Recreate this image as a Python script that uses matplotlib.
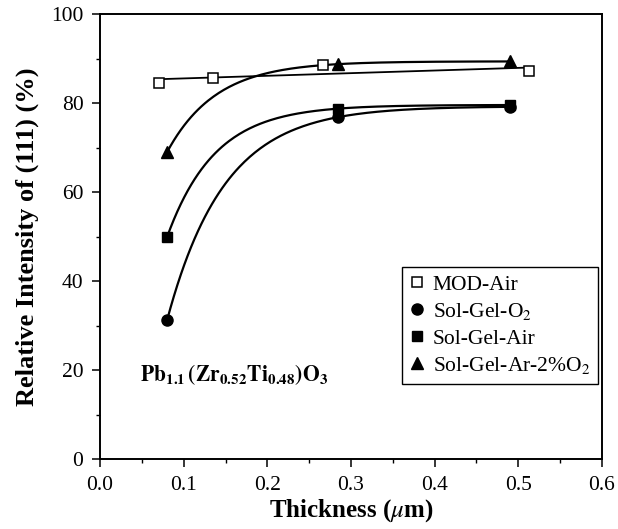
import numpy as np
import matplotlib
matplotlib.use("Agg")
import matplotlib.pyplot as plt

# film thickness (um) vs relative intensity of the (111) peak (%)
thick_mod = [0.07, 0.135, 0.267, 0.513]
mod_air = [84.5, 85.6, 88.5, 87.2]

thick_sg = [0.08, 0.285, 0.49]
sg_o2 = [31.2, 76.9, 79.2]
sg_air = [49.9, 78.8, 79.6]
sg_ar = [69.0, 88.8, 89.4]

x_ticks = [0.0, 0.1, 0.2, 0.3, 0.4, 0.5, 0.6]
y_ticks = [0, 20, 40, 60, 80, 100]

plt.rcParams["font.family"] = ["Liberation Serif", "DejaVu Serif"]
plt.rcParams["mathtext.fontset"] = "stix"


def saturation_curve(x, y, num=200):
    # y = a - b*exp(-k*x) through three evenly spaced points
    x = np.asarray(x, dtype=float)
    y = np.asarray(y, dtype=float)
    h = x[1] - x[0]
    k = np.log((y[1] - y[0]) / (y[2] - y[1])) / h
    b = (y[1] - y[0]) / (np.exp(-k * x[0]) - np.exp(-k * x[1]))
    a = y[0] + b * np.exp(-k * x[0])
    xs = np.linspace(x[0], x[-1], num)
    return xs, a - b * np.exp(-k * xs)


fig = plt.figure(figsize=(6.18, 5.29), dpi=100)
ax = fig.add_axes([0.162, 0.132, 0.812, 0.841])

# fitted lines
coef = np.polyfit(thick_mod, mod_air, 1)
xs = np.linspace(thick_mod[0], thick_mod[-1], 50)
ax.plot(xs, np.polyval(coef, xs), color="black", lw=1.3)
for vals in (sg_o2, sg_air, sg_ar):
    cx, cy = saturation_curve(thick_sg, vals)
    ax.plot(cx, cy, color="black", lw=1.6)

# data points
ax.plot(thick_mod, mod_air, ls="none", marker="s", ms=7.5, mfc="white",
        mec="black", mew=1.1, label="MOD-Air")
ax.plot(thick_sg, sg_o2, ls="none", marker="o", ms=8, color="black",
        label="Sol-Gel-O$_2$")
ax.plot(thick_sg, sg_air, ls="none", marker="s", ms=7.5, color="black",
        label="Sol-Gel-Air")
ax.plot(thick_sg, sg_ar, ls="none", marker="^", ms=8.5, color="black",
        label="Sol-Gel-Ar-2%O$_2$")

ax.set_xlim(0, 0.6)
ax.set_ylim(0, 100)
ax.set_xticks(x_ticks)
ax.set_xticklabels([f"{t:.1f}" for t in x_ticks])
ax.set_yticks(y_ticks)
ax.set_xticks(np.arange(0.05, 0.6, 0.1), minor=True)
ax.set_yticks(np.arange(10, 100, 20), minor=True)
ax.tick_params(which="major", direction="out", length=6, width=1.1,
               labelsize=15.5, pad=6)
ax.tick_params(which="minor", direction="out", length=3, width=1)
for sp in ax.spines.values():
    sp.set_linewidth(1.4)

ax.set_xlabel(r"Thickness ($\mu$m)", fontsize=18, fontweight="bold", labelpad=2)
ax.set_ylabel("Relative Intensity of (111) (%)", fontsize=19,
              fontweight="bold", labelpad=9)

ax.text(0.048, 19, r"$\mathbf{Pb_{1.1}\,(Zr_{0.52}Ti_{0.48})O_3}$",
        fontsize=15.5, va="center", ha="left")

leg = ax.legend(loc="lower right", bbox_to_anchor=(0.992, 0.17),
                borderaxespad=0, fontsize=15.5, frameon=True, fancybox=False,
                edgecolor="black", framealpha=1, handlelength=0.7,
                handletextpad=0.4, labelspacing=0.3, borderpad=0.35)
leg.get_frame().set_linewidth(1.0)

fig.savefig("out.png", dpi=100)
